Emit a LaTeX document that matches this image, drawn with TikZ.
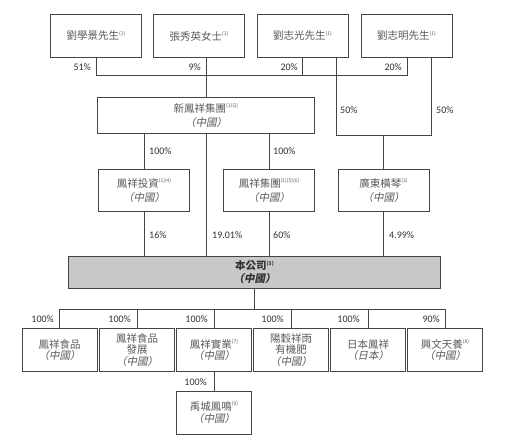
\documentclass[tikz,border=0pt]{standalone}
\usepackage{fontspec}
\setmainfont{Noto Sans CJK TC}
\newfontfamily\cjkit{Noto Sans CJK TC}[FakeSlant=0.2]
\newfontfamily\pctfont{Carlito}
\definecolor{txt}{HTML}{5A5A5A}
\definecolor{ln}{HTML}{444444}
\definecolor{pct}{HTML}{333333}
\definecolor{cofill}{HTML}{C8C8C8}
\newcommand{\fn}[1]{\raisebox{0.45em}{\fontsize{5}{5}\selectfont #1}}
\newcommand{\cn}[1]{{\cjkit （#1）}}
\begin{document}
\begin{tikzpicture}[x=1pt,y=-1pt,
  box/.style={draw=ln,line width=0.9pt,align=center,text=txt,inner sep=1pt,
    font=\fontsize{10.5}{13.5}\selectfont},
  topbox/.style={box,minimum width=91pt,minimum height=43pt},
  midbox/.style={box,minimum width=91pt,minimum height=42pt},
  botbox/.style={box,minimum width=75pt,minimum height=43pt,font=\fontsize{10.5}{11.8}\selectfont},
  pctl/.style={text=pct,font=\pctfont\fontsize{10}{12}\selectfont,inner sep=0pt},
  conn/.style={draw=ln,line width=0.9pt}]
\useasboundingbox (0,0) rectangle (505,446);
\fill[white] (0,0) rectangle (505,446);

% top row
\node[topbox] (p1) at (96,36) {劉學景先生\fn{(1)}};
\node[topbox] (p2) at (199,36) {張秀英女士\fn{(1)}};
\node[topbox] (p3) at (302.5,36) {劉志光先生\fn{(1)}};
\node[topbox] (p4) at (406.5,36) {劉志明先生\fn{(1)}};

% second row
\node[box,minimum width=217pt,minimum height=36pt] (xin) at (206,115.5) {新鳳祥集團\fn{(1)(2)}\\\cn{中國}};

% third row
\node[midbox] (tz) at (144,190.5) {鳳祥投資\fn{(1)(4)}\\\cn{中國}};
\node[midbox] (fj) at (269,190.5) {鳳祥集團\fn{(1)(5)(6)}\\\cn{中國}};
\node[midbox] (gd) at (383.5,190.5) {廣東橫琴\fn{(3)}\\\cn{中國}};

% company
\node[box,fill=cofill,minimum width=372pt,minimum height=32pt,text=pct,
  font=\fontsize{10.5}{13}\selectfont\bfseries] (co) at (254.5,272.5)
  {本公司\fn{(5)}\\{\cjkit\bfseries （中國）}};

% bottom row
\node[botbox] (b1) at (59.5,350) {鳳祥食品\\\cn{中國}};
\node[botbox] (b2) at (137,350) {鳳祥食品\\發展\\\cn{中國}};
\node[botbox] (b3) at (214,350) {鳳祥實業\fn{(7)}\\\cn{中國}};
\node[botbox] (b4) at (291,350) {陽穀祥雨\\有機肥\\\cn{中國}};
\node[botbox] (b5) at (368,350) {日本鳳祥\\{\cjkit （日本）}};
\node[botbox] (b6) at (445,350) {興文天養\fn{(8)}\\\cn{中國}};
\node[botbox] (yc) at (214,412.5) {禹城鳳鳴\fn{(9)}\\\cn{中國}};

% coordinates
\coordinate (jL) at (96,75);
\coordinate (jR) at (407,75);
\coordinate (gdL) at (336,135);
\coordinate (gdR) at (431,135);
\coordinate (bL) at (59.5,309);
\coordinate (bR) at (445,309);

% top connectors
\draw[conn] (p1.south) -- (jL) -- (jR) -- (p4.south -| jR);
\draw[conn] (p3.south) -- (p3.south |- jL);
\draw[conn] (xin.north |- p2.south) -- (xin.north);
\draw[conn] (p3.south -| gdL) -- (gdL) -- (gdR) -- (p4.south -| gdR);
\draw[conn] (gd.north |- gdL) -- (gd.north);

% xin to row 3 and company
\draw[conn] (xin.south -| tz.north) -- (tz.north);
\draw[conn] (xin.south -| fj.north) -- (fj.north);
\draw[conn] (xin.south) -- (xin.south |- co.north);
\draw[conn] (tz.south) -- (tz.south |- co.north);
\draw[conn] (fj.south) -- (fj.south |- co.north);
\draw[conn] (gd.south) -- (gd.south |- co.north);

% company to subsidiaries
\draw[conn] (co.south) -- (co.south |- bL);
\draw[conn] (bL) -- (bR);
\foreach \b in {b1,b2,b3,b4,b5,b6}{
  \draw[conn] (\b.north |- bL) -- (\b.north);
}
\draw[conn] (b3.south) -- (yc.north);

% percentage labels
\node[pctl,anchor=east] (l1) at (91,67) {51\%};
\node[pctl,anchor=east] (l2) at (201,67) {9\%};
\node[pctl,anchor=east] (l3) at (298,67) {20\%};
\node[pctl,anchor=east] (l4) at (402,67) {20\%};
\node[pctl,anchor=west] (l5) at (340,110) {50\%};
\node[pctl,anchor=west] (l6) at (436,110) {50\%};
\node[pctl,anchor=west] (l7) at (149,151) {100\%};
\node[pctl,anchor=west] (l8) at (273,151) {100\%};
\node[pctl,anchor=west] (l9) at (149,235) {16\%};
\node[pctl,anchor=west] (l10) at (212,235) {19.01\%};
\node[pctl,anchor=west] (l11) at (273,235) {60\%};
\node[pctl,anchor=west] (l12) at (389,235) {4.99\%};
\node[pctl,anchor=east] (l13) at (54,319) {100\%};
\node[pctl,anchor=east] (l14) at (131,319) {100\%};
\node[pctl,anchor=east] (l15) at (208,319) {100\%};
\node[pctl,anchor=east] (l16) at (284,319) {100\%};
\node[pctl,anchor=east] (l17) at (360,319) {100\%};
\node[pctl,anchor=east] (l18) at (440,319) {90\%};
\node[pctl,anchor=east] (l19) at (207,382) {100\%};
\end{tikzpicture}
\end{document}
